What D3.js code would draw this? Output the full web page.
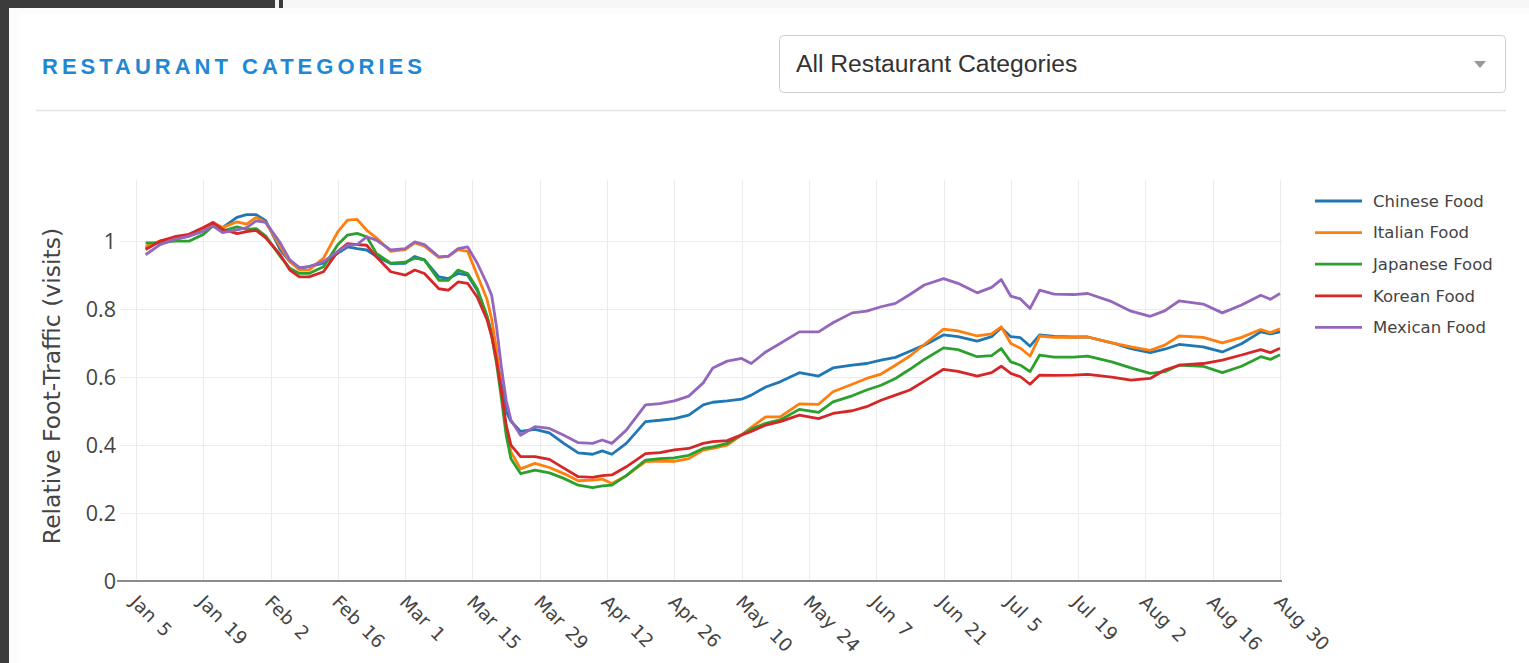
<!DOCTYPE html>
<html>
<head>
<meta charset="utf-8">
<script src="https://cdn.jsdelivr.net/npm/d3@7/dist/d3.min.js"></script>
<style>
    html, body { margin: 0; padding: 0; background: #3c3c3c; overflow: hidden; }
    svg { display: block; }
</style>
</head>
<body>
<svg id="chart" width="1529" height="663"></svg>
<script>
const dates = [
    '2020-01-07', '2020-01-10', '2020-01-13', '2020-01-16', '2020-01-19', '2020-01-21', '2020-01-23', '2020-01-26',
    '2020-01-28', '2020-01-30', '2020-02-01', '2020-02-04', '2020-02-06', '2020-02-08', '2020-02-10', '2020-02-13',
    '2020-02-16', '2020-02-18', '2020-02-20', '2020-02-22', '2020-02-24', '2020-02-27', '2020-03-01', '2020-03-03',
    '2020-03-05', '2020-03-08', '2020-03-10', '2020-03-12', '2020-03-14', '2020-03-16', '2020-03-18', '2020-03-19',
    '2020-03-20', '2020-03-21', '2020-03-22', '2020-03-23', '2020-03-25', '2020-03-28', '2020-03-31', '2020-04-03',
    '2020-04-06', '2020-04-09', '2020-04-11', '2020-04-13', '2020-04-16', '2020-04-20', '2020-04-23', '2020-04-26',
    '2020-04-29', '2020-05-02', '2020-05-04', '2020-05-07', '2020-05-10', '2020-05-12', '2020-05-15', '2020-05-18',
    '2020-05-22', '2020-05-26', '2020-05-29', '2020-06-02', '2020-06-05', '2020-06-08', '2020-06-11', '2020-06-14',
    '2020-06-17', '2020-06-21', '2020-06-24', '2020-06-28', '2020-07-01', '2020-07-03', '2020-07-05', '2020-07-07',
    '2020-07-09', '2020-07-11', '2020-07-14', '2020-07-18', '2020-07-21', '2020-07-26', '2020-07-30', '2020-08-03',
    '2020-08-06', '2020-08-09', '2020-08-14', '2020-08-18', '2020-08-22', '2020-08-26', '2020-08-28', '2020-08-30'
]

const chineseFood = [
    0.98, 1.0, 1.005, 1.015, 1.03, 1.05, 1.04, 1.07,
    1.078, 1.078, 1.06, 0.975, 0.94, 0.92, 0.925, 0.935,
    0.965, 0.983, 0.978, 0.974, 0.955, 0.934, 0.935, 0.955,
    0.945, 0.895, 0.89, 0.905, 0.9, 0.855, 0.78, 0.73,
    0.66, 0.58, 0.5, 0.47, 0.44, 0.446, 0.436, 0.405,
    0.377, 0.373, 0.383, 0.373, 0.405, 0.469, 0.473, 0.478,
    0.488, 0.518, 0.526, 0.53, 0.535, 0.547, 0.571, 0.586,
    0.613, 0.603, 0.627, 0.635, 0.64, 0.65, 0.658, 0.676,
    0.694, 0.724, 0.719, 0.706, 0.719, 0.745, 0.719, 0.716,
    0.691, 0.724, 0.72, 0.718, 0.718, 0.701, 0.684, 0.672,
    0.682, 0.696, 0.689, 0.674, 0.698, 0.733, 0.727, 0.733
]

const italianFood = [
    0.985, 1.0, 1.01, 1.015, 1.035, 1.055, 1.04, 1.057,
    1.05, 1.07, 1.055, 0.985, 0.94, 0.915, 0.915, 0.95,
    1.028, 1.062, 1.064, 1.032, 1.01, 0.97, 0.975, 0.995,
    0.985, 0.952, 0.955, 0.975, 0.97, 0.9, 0.83, 0.77,
    0.68, 0.56, 0.45, 0.38, 0.33, 0.346, 0.334, 0.316,
    0.295, 0.297, 0.3, 0.287, 0.31, 0.351, 0.353, 0.352,
    0.36, 0.385, 0.39, 0.4, 0.43, 0.452, 0.483, 0.483,
    0.521, 0.52, 0.557, 0.579, 0.596, 0.609, 0.635, 0.662,
    0.696, 0.741, 0.736, 0.721, 0.727, 0.748, 0.699, 0.685,
    0.662, 0.721, 0.717, 0.717, 0.718, 0.701, 0.689, 0.679,
    0.694, 0.721, 0.717, 0.701, 0.717, 0.74, 0.731, 0.742
]

const japaneseFood = [
    0.995, 0.995, 1.0, 1.0, 1.02, 1.045, 1.03, 1.042,
    1.035, 1.037, 1.015, 0.955, 0.92, 0.905, 0.905, 0.925,
    0.99, 1.018, 1.023, 1.013, 0.964, 0.935, 0.938, 0.95,
    0.945, 0.885, 0.885, 0.915, 0.905, 0.86, 0.78, 0.72,
    0.64, 0.54, 0.43, 0.36, 0.316, 0.326, 0.318, 0.302,
    0.282, 0.275, 0.28, 0.282, 0.31, 0.356, 0.36, 0.362,
    0.37, 0.39, 0.395, 0.405, 0.43, 0.447, 0.464, 0.474,
    0.505, 0.496, 0.527, 0.545, 0.562, 0.576, 0.596, 0.623,
    0.652, 0.686, 0.681, 0.66, 0.663, 0.684, 0.645, 0.635,
    0.616, 0.665, 0.659, 0.659, 0.662, 0.645, 0.627, 0.611,
    0.616, 0.635, 0.632, 0.613, 0.632, 0.66, 0.652, 0.666
]

const koreanFood = [
    0.975, 1.0, 1.013, 1.02, 1.04, 1.055, 1.035, 1.022,
    1.028, 1.032, 1.01, 0.96, 0.915, 0.895, 0.895, 0.91,
    0.97, 0.993, 0.99, 0.988, 0.954, 0.91, 0.9, 0.915,
    0.905, 0.86, 0.856, 0.88, 0.876, 0.835, 0.77, 0.72,
    0.65, 0.56, 0.46, 0.4, 0.366, 0.366, 0.358, 0.332,
    0.307, 0.305, 0.31, 0.312, 0.336, 0.375, 0.378, 0.386,
    0.39, 0.405, 0.41, 0.413, 0.43, 0.44, 0.459, 0.469,
    0.488, 0.478, 0.493, 0.501, 0.513, 0.532, 0.547, 0.562,
    0.588, 0.623, 0.617, 0.603, 0.613, 0.632, 0.611, 0.601,
    0.579, 0.606, 0.605, 0.606, 0.608, 0.6, 0.591, 0.596,
    0.621, 0.635, 0.64, 0.65, 0.665, 0.681, 0.672, 0.685
]

const mexicanFood = [
    0.96, 0.99, 1.005, 1.015, 1.03, 1.045, 1.025, 1.033,
    1.04, 1.06, 1.055, 0.995, 0.945, 0.922, 0.925, 0.94,
    0.97, 0.988, 0.99, 1.013, 1.003, 0.974, 0.978, 0.998,
    0.99, 0.954, 0.956, 0.978, 0.983, 0.935, 0.875, 0.84,
    0.748, 0.631, 0.532, 0.474, 0.429, 0.454, 0.449, 0.429,
    0.407, 0.405, 0.415, 0.405, 0.444, 0.518, 0.522, 0.53,
    0.544, 0.583, 0.627, 0.647, 0.655, 0.64, 0.674, 0.699,
    0.733, 0.733, 0.76, 0.789, 0.794, 0.807, 0.817, 0.843,
    0.871, 0.89, 0.876, 0.848, 0.864, 0.887, 0.838, 0.83,
    0.802, 0.856, 0.844, 0.843, 0.846, 0.822, 0.794, 0.779,
    0.795, 0.824, 0.815, 0.789, 0.812, 0.841, 0.829, 0.846
]

const seriesNames = ['Chinese Food', 'Italian Food', 'Japanese Food', 'Korean Food', 'Mexican Food']
const seriesColors = ['#1f77b4', '#ff7f0e', '#2ca02c', '#d62728', '#9467bd']

const tickDates = [
    '2020-01-05', '2020-01-19', '2020-02-02', '2020-02-16', '2020-03-01', '2020-03-15',
    '2020-03-29', '2020-04-12', '2020-04-26', '2020-05-10', '2020-05-24', '2020-06-07',
    '2020-06-21', '2020-07-05', '2020-07-19', '2020-08-02', '2020-08-16', '2020-08-30'
]
const yTicks = [0, 0.2, 0.4, 0.6, 0.8, 1]

function lineChart(settings) {

    let chart = {}

    chart.settings = {
        selector: null,
        width: 1529,
        height: 663
    }
    for (let setting in settings) {
        chart.settings[setting] = settings[setting]
    }

    const parse = d3.timeParse('%Y-%m-%d')
    const format = d3.timeFormat('%b %-d')
    const tickFont = '"DejaVu Sans", Verdana, sans-serif'

    chart.series = [chineseFood, italianFood, japaneseFood, koreanFood, mexicanFood].map((values, i) => ({
        name: seriesNames[i],
        color: seriesColors[i],
        points: values.map((v, j) => [parse(dates[j]), v])
    }))

    !function init() {
        chart.svg = d3.select(chart.settings.selector)

        // plot box
        chart.margin = {top: 180, right: 247, bottom: 82, left: 120}
        chart.x = d3.scaleTime()
            .domain([new Date(2020, 0, 1, 16), new Date(2020, 7, 30, 10)])
            .range([chart.margin.left, chart.settings.width - chart.margin.right])
        chart.y = d3.scaleLinear()
            .domain([0, 1.18])
            .range([chart.settings.height - chart.margin.bottom, chart.margin.top])

        drawFrame()
        drawHeader()
        drawGrid()
        drawLines()
        drawAxes()
        drawLegend()
    }()

    function drawFrame() {
        const svg = chart.svg
        svg.append('rect').attr('x', 0).attr('y', 0).attr('width', 1529).attr('height', 663).attr('fill', '#3c3c3c')
        svg.append('rect').attr('x', 275).attr('y', 0).attr('width', 4).attr('height', 8).attr('fill', '#f2f2f2')
        svg.append('rect').attr('x', 283).attr('y', 0).attr('width', 1246).attr('height', 8).attr('fill', '#f7f7f7')
        svg.append('rect').attr('x', 9).attr('y', 8).attr('width', 1520).attr('height', 655).attr('fill', '#fcfcfc')
        svg.append('rect').attr('x', 20).attr('y', 14).attr('width', 1509).attr('height', 649).attr('fill', '#ffffff')
    }

    function drawHeader() {
        const svg = chart.svg
        svg.append('text')
            .attr('x', 42).attr('y', 74)
            .attr('fill', '#1e88d3')
            .style('font', 'bold 22px "Liberation Sans", Arial, sans-serif')
            .style('letter-spacing', '4px')
            .text('RESTAURANT CATEGORIES')

        svg.append('line')
            .attr('x1', 36).attr('x2', 1506)
            .attr('y1', 110.5).attr('y2', 110.5)
            .attr('stroke', '#e3e3e3').attr('stroke-width', 1.5)

        // dropdown
        svg.append('rect')
            .attr('x', 779.5).attr('y', 35.5).attr('width', 726).attr('height', 57).attr('rx', 4)
            .attr('fill', '#fff').attr('stroke', '#cfcfcf')
        svg.append('text')
            .attr('x', 796).attr('y', 72)
            .attr('fill', '#333')
            .style('font', '24.7px "Liberation Sans", Arial, sans-serif')
            .text('All Restaurant Categories')
        svg.append('path')
            .attr('d', 'M1474,61 L1486,61 L1480,68 Z')
            .attr('fill', '#999')
    }

    function drawGrid() {
        const g = chart.svg.append('g').attr('class', 'grid')
        const [y0, y1] = chart.y.range()
        g.selectAll('line.v')
            .data(tickDates.map(parse))
            .join('line')
            .attr('class', 'v')
            .attr('x1', d => Math.round(chart.x(d)) + .5).attr('x2', d => Math.round(chart.x(d)) + .5)
            .attr('y1', y1).attr('y2', y0)
            .attr('stroke', '#ebebeb')
        g.selectAll('line.h')
            .data(yTicks.filter(d => d > 0))
            .join('line')
            .attr('class', 'h')
            .attr('x1', chart.x.range()[0]).attr('x2', chart.x.range()[1])
            .attr('y1', d => Math.round(chart.y(d)) + .5).attr('y2', d => Math.round(chart.y(d)) + .5)
            .attr('stroke', '#ebebeb')
    }

    function drawLines() {
        const line = d3.line()
            .x(d => chart.x(d[0]))
            .y(d => chart.y(d[1]))

        chart.svg.append('g')
            .selectAll('path')
            .data(chart.series)
            .join('path')
            .attr('d', d => line(d.points))
            .attr('fill', 'none')
            .attr('stroke', d => d.color)
            .attr('stroke-width', 2.8)
            .attr('stroke-linejoin', 'round')
    }

    function drawAxes() {
        const svg = chart.svg
        const base = chart.y(0)

        // zero line
        svg.append('line')
            .attr('x1', chart.x.range()[0] - 3).attr('x2', chart.x.range()[1])
            .attr('y1', base).attr('y2', base)
            .attr('stroke', '#8c8c8c').attr('stroke-width', 2.2)

        const xAxis = svg.append('g')
            .attr('transform', `translate(0,${base})`)
            .call(d3.axisBottom(chart.x)
                .tickValues(tickDates.map(parse))
                .tickFormat(format)
                .tickSize(0))
        xAxis.select('.domain').remove()
        xAxis.selectAll('text')
            .attr('x', 0).attr('y', 0).attr('dy', '0.71em')
            .attr('text-anchor', 'start')
            .attr('transform', 'translate(2,13) rotate(45)')
            .attr('fill', '#444')
            .style('font', '18.5px ' + tickFont)
            .style('word-spacing', '3px')

        const yAxis = svg.append('g')
            .attr('transform', `translate(${chart.x.range()[0] - 1},0)`)
            .call(d3.axisLeft(chart.y)
                .tickValues(yTicks)
                .tickFormat(d3.format('~g'))
                .tickSize(0))
        yAxis.select('.domain').remove()
        yAxis.selectAll('text')
            .attr('dy', '0.36em')
            .attr('fill', '#444')
            .style('font', '21.5px "Open Sans", Arial, sans-serif')

        svg.append('text')
            .attr('transform', `translate(60,386) rotate(-90)`)
            .attr('text-anchor', 'middle')
            .attr('fill', '#444')
            .style('font', '23.5px ' + tickFont)
            .text('Relative Foot-Traffic (visits)')
    }

    function drawLegend() {
        const legend = chart.svg.append('g')
            .attr('transform', 'translate(1315,201)')
        const item = legend.selectAll('g')
            .data(chart.series)
            .join('g')
            .attr('transform', (d, i) => `translate(0,${i * 31.6})`)
        item.append('line')
            .attr('x1', 0).attr('x2', 47)
            .attr('stroke', d => d.color)
            .attr('stroke-width', 2.8)
        item.append('text')
            .attr('x', 58).attr('dy', '0.35em')
            .attr('fill', '#444')
            .style('font', '16.5px ' + tickFont)
            .text(d => d.name)
    }

    return chart
}

lineChart({selector: '#chart'})
</script>
</body>
</html>
